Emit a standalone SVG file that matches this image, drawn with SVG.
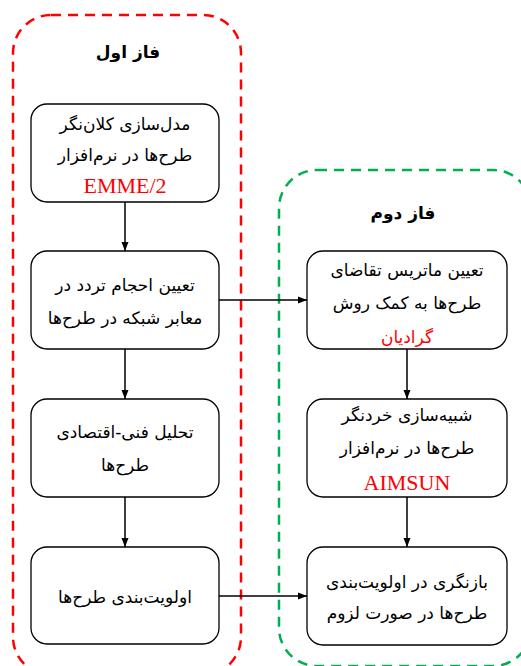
<svg xmlns="http://www.w3.org/2000/svg" width="521" height="666" viewBox="0 0 521 666">
<style>
.box{fill:#fff;stroke:#000;stroke-width:1.3}
.fa{font-family:"DejaVu Sans",sans-serif;font-size:17px;fill:#000;text-anchor:middle;direction:rtl}
.ttl{font-family:"DejaVu Sans",sans-serif;font-size:17px;font-weight:bold;fill:#000;text-anchor:middle;direction:rtl}
.en{font-family:"Liberation Serif",serif;font-size:22px;fill:#ff0000;text-anchor:middle}
.red{fill:#ff0000}
.con{stroke:#000;stroke-width:1.5;fill:none;marker-end:url(#ah)}
</style>
<defs>
<marker id="ah" markerWidth="10" markerHeight="10" refX="9" refY="5" orient="auto" markerUnits="userSpaceOnUse">
<path d="M0,1.5 L9,5 L0,8.5 Z" fill="#000"/>
</marker>
</defs>
<rect width="521" height="666" fill="#fff"/>
<g id="phase1">
<rect x="13" y="15" width="228" height="660" rx="38" ry="38" fill="none" stroke="#ff0000" stroke-width="2.5" stroke-dasharray="10,7"/>
<text class="ttl" x="128" y="58">فاز اول</text>
</g>
<g id="phase2">
<rect x="279" y="170" width="252" height="496" rx="38" ry="38" fill="none" stroke="#00b050" stroke-width="2.5" stroke-dasharray="10,7"/>
<text class="ttl" x="403" y="219">فاز دوم</text>
</g>
<g id="connectors">
<line class="con" x1="125" y1="202" x2="125" y2="251"/>
<line class="con" x1="125" y1="349" x2="125" y2="399"/>
<line class="con" x1="125" y1="497" x2="125" y2="547"/>
<line class="con" x1="219" y1="300" x2="307" y2="300"/>
<line class="con" x1="219" y1="596" x2="307" y2="596"/>
<line class="con" x1="407" y1="349" x2="407" y2="399"/>
<line class="con" x1="407" y1="497" x2="407" y2="547"/>
</g>
<g id="n1">
<rect class="box" x="31" y="104" width="188" height="98" rx="16"/>
<text class="fa" x="125" y="130">مدل‌سازی کلان‌نگر</text>
<text class="fa" x="125" y="161">طرح‌ها در نرم‌افزار</text>
<text class="en" x="125" y="193">EMME/2</text>
</g>
<g id="n2">
<rect class="box" x="31" y="251" width="188" height="98" rx="16"/>
<text class="fa" x="125" y="291">تعیین احجام تردد در</text>
<text class="fa" x="125" y="324">معابر شبکه در طرح‌ها</text>
</g>
<g id="n3">
<rect class="box" x="31" y="399" width="188" height="98" rx="16"/>
<text class="fa" x="125" y="438">تحلیل فنی-اقتصادی</text>
<text class="fa" x="125" y="471">طرح‌ها</text>
</g>
<g id="n4">
<rect class="box" x="31" y="547" width="188" height="97" rx="16"/>
<text class="fa" x="125" y="603">اولویت‌بندی طرح‌ها</text>
</g>
<g id="n5">
<rect class="box" x="307" y="251" width="200" height="98" rx="16"/>
<text class="fa" x="407" y="276">تعیین ماتریس تقاضای</text>
<text class="fa" x="407" y="309">طرح‌ها به کمک روش</text>
<text class="fa red" x="407" y="343">گرادیان</text>
</g>
<g id="n6">
<rect class="box" x="307" y="399" width="200" height="98" rx="16"/>
<text class="fa" x="407" y="421">شبیه‌سازی خردنگر</text>
<text class="fa" x="407" y="454">طرح‌ها در نرم‌افزار</text>
<text class="en" x="407" y="490">AIMSUN</text>
</g>
<g id="n7">
<rect class="box" x="307" y="547" width="200" height="98" rx="16"/>
<text class="fa" x="407" y="588">بازنگری در اولویت‌بندی</text>
<text class="fa" x="407" y="619">طرح‌ها در صورت لزوم</text>
</g>
</svg>
